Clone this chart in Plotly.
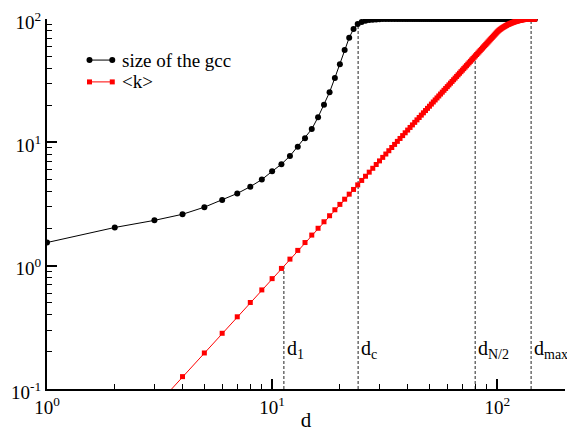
import numpy as np
import plotly.graph_objects as go

# ---------------- data ----------------
d_values = list(range(1, 148))

gcc_size = [
    1.54, 2.04, 2.33, 2.61, 2.98, 3.41, 3.85, 4.37, 4.99, 5.82,
    6.65, 7.75, 9.21, 10.8, 12.8, 16.0, 20.2, 25.5, 33.3, 42.9,
    56.1, 70.5, 83.1, 90.9, 94.4, 96.8, 98.0, 98.8, 99.3, 99.6,
    99.8, 99.9, 100.0, 100.0, 100.0, 100.0, 100.0, 100.0, 100.0, 100.0,
    100.0, 100.0, 100.0, 100.0, 100.0, 100.0, 100.0, 100.0, 100.0, 100.0,
    100.0, 100.0, 100.0, 100.0, 100.0, 100.0, 100.0, 100.0, 100.0, 100.0,
    100.0, 100.0, 100.0, 100.0, 100.0, 100.0, 100.0, 100.0, 100.0, 100.0,
    100.0, 100.0, 100.0, 100.0, 100.0, 100.0, 100.0, 100.0, 100.0, 100.0,
    100.0, 100.0, 100.0, 100.0, 100.0, 100.0, 100.0, 100.0, 100.0, 100.0,
    100.0, 100.0, 100.0, 100.0, 100.0, 100.0, 100.0, 100.0, 100.0, 100.0,
    100.0, 100.0, 100.0, 100.0, 100.0, 100.0, 100.0, 100.0, 100.0, 100.0,
    100.0, 100.0, 100.0, 100.0, 100.0, 100.0, 100.0, 100.0, 100.0, 100.0,
    100.0, 100.0, 100.0, 100.0, 100.0, 100.0, 100.0, 100.0, 100.0, 100.0,
    100.0, 100.0, 100.0, 100.0, 100.0, 100.0, 100.0, 100.0, 100.0, 100.0,
    100.0, 100.0, 100.0, 100.0, 100.0, 100.0, 100.0,
]

mean_degree = [
    0.00785, 0.0314, 0.0707, 0.126, 0.196, 0.283, 0.385, 0.503, 0.636, 0.785,
    0.950, 1.13, 1.33, 1.54, 1.77, 2.01, 2.27, 2.54, 2.84, 3.14,
    3.46, 3.80, 4.15, 4.52, 4.91, 5.31, 5.73, 6.16, 6.61, 7.07,
    7.55, 8.04, 8.55, 9.08, 9.62, 10.18, 10.75, 11.34, 11.95, 12.57,
    13.20, 13.85, 14.52, 15.21, 15.90, 16.62, 17.35, 18.10, 18.86, 19.63,
    20.43, 21.24, 22.06, 22.90, 23.76, 24.63, 25.52, 26.42, 27.34, 28.27,
    29.22, 30.19, 31.17, 32.17, 33.18, 34.21, 35.26, 36.32, 37.39, 38.48,
    39.59, 40.72, 41.85, 43.01, 44.18, 45.36, 46.57, 47.78, 49.02, 50.27,
    51.53, 52.81, 54.11, 55.42, 56.75, 58.09, 59.45, 60.82, 62.21, 63.62,
    65.04, 66.48, 67.93, 69.40, 70.88, 72.38, 73.90, 75.43, 76.98, 78.54,
    79.93, 81.18, 82.33, 83.42, 84.45, 85.42, 86.34, 87.22, 88.06, 88.87,
    89.63, 90.36, 91.06, 91.72, 92.35, 92.96, 93.53, 94.08, 94.60, 95.09,
    95.56, 96.00, 96.41, 96.81, 97.17, 97.51, 97.83, 98.13, 98.40, 98.65,
    98.88, 99.09, 99.28, 99.44, 99.58, 99.70, 99.80, 99.88, 99.94, 99.98,
    100.0, 100.0, 100.0, 100.0, 100.0, 100.0, 100.0,
]

# characteristic distances and the curve value each dashed line reaches
threshold_names = ["d<sub>1</sub>", "d<sub>c</sub>", "d<sub>N/2</sub>", "d<sub>max</sub>"]
threshold_d = [11.28, 24.1, 79.8, 141.4]
threshold_top = [1.0, 91.0, 50.0, 100.0]

series_names = ["size of the gcc", "<k>"]

x_tick_vals = [1, 10, 100]
x_tick_text = ["10<sup>0</sup>", "10<sup>1</sup>", "10<sup>2</sup>"]
y_tick_vals = [0.1, 1, 10, 100]
y_tick_text = ["10<sup>-1</sup>", "10<sup>0</sup>", "10<sup>1</sup>", "10<sup>2</sup>"]

# ---------------- figure ----------------
FONT = "Liberation Serif, Times New Roman, Times, serif"
x_min, x_max = 1, 200
y_min, y_max = 0.1, 100

fig = go.Figure()

for xd, top in zip(threshold_d, threshold_top):
    fig.add_trace(go.Scatter(
        x=[xd, xd], y=[y_min, top], mode="lines",
        line=dict(color="#222222", width=1, dash="3px,2px"),
        showlegend=False, hoverinfo="skip"))

fig.add_trace(go.Scatter(
    x=d_values, y=gcc_size, mode="lines+markers", name=series_names[0],
    line=dict(color="black", width=1),
    marker=dict(symbol="circle", size=6, color="black"),
    showlegend=False))

fig.add_trace(go.Scatter(
    x=d_values, y=mean_degree, mode="lines+markers", name=series_names[1],
    line=dict(color="red", width=1),
    marker=dict(symbol="square", size=5, color="red"),
    showlegend=False))

# hand-drawn legend (sample line with a symbol at each end, as in the original)
legend_colors = ["black", "red"]
legend_symbols = ["circle", "square"]
legend_y = [0.889, 0.830]
for name, col, sym, ly in zip(series_names, legend_colors, legend_symbols, legend_y):
    fig.add_trace(go.Scatter(
        x=[0.082, 0.126], y=[ly, ly], mode="lines+markers",
        xaxis="x2", yaxis="y2",
        line=dict(color=col, width=1),
        marker=dict(symbol=sym, size=6 if sym == "circle" else 5, color=col),
        showlegend=False, hoverinfo="skip"))
    fig.add_annotation(
        x=0.141, y=ly, xref="paper", yref="paper",
        text=name.replace("<", "&lt;").replace(">", "&gt;"),
        showarrow=False, xanchor="left", yanchor="middle",
        font=dict(family=FONT, size=19, color="black"))

for name, xd in zip(threshold_names, threshold_d):
    fig.add_annotation(
        x=np.log10(xd), y=-0.68, xref="x", yref="y", text=name,
        showarrow=False, xanchor="left", yanchor="middle", xshift=1,
        font=dict(family=FONT, size=20, color="black"))

axis_common = dict(
    type="log", showline=True, linecolor="black", linewidth=2,
    ticks="inside", ticklen=10, tickwidth=1.5, tickcolor="black",
    showgrid=False, zeroline=False, mirror=False, automargin=False,
    ticklabeloverflow="allow",
    tickfont=dict(family=FONT, size=19, color="black"),
)

# the page body adds an 8 px margin, so the figure is 8 px smaller and shifted
fig.update_layout(
    width=567, height=424,
    margin=dict(l=39, r=10, t=11, b=43),
    paper_bgcolor="white", plot_bgcolor="white",
    showlegend=False,
    font=dict(family=FONT, color="black"),
    xaxis=dict(
        **axis_common,
        range=[np.log10(x_min), np.log10(x_max)],
        tickvals=x_tick_vals, ticktext=x_tick_text,
        minor=dict(ticks="inside", ticklen=5, tickwidth=1, tickcolor="black",
                   tickvals=[2, 3, 4, 5, 6, 7, 8, 9, 20, 30, 40, 50, 60, 70, 80, 90, 200],
                   showgrid=False),
        title=dict(text="d", font=dict(family=FONT, size=21, color="black"), standoff=5),
    ),
    yaxis=dict(
        **axis_common,
        ticklabelshift=3,
        range=[np.log10(y_min), np.log10(y_max)],
        tickvals=y_tick_vals, ticktext=y_tick_text,
        minor=dict(ticks="inside", ticklen=5, tickwidth=1, tickcolor="black",
                   tickvals=[0.2, 0.3, 0.4, 0.5, 0.6, 0.7, 0.8, 0.9,
                             2, 3, 4, 5, 6, 7, 8, 9,
                             20, 30, 40, 50, 60, 70, 80, 90],
                   showgrid=False),
    ),
    xaxis2=dict(overlaying="x", range=[0, 1], visible=False, fixedrange=True),
    yaxis2=dict(overlaying="y", range=[0, 1], visible=False, fixedrange=True),
)

fig.write_html("out.html")
